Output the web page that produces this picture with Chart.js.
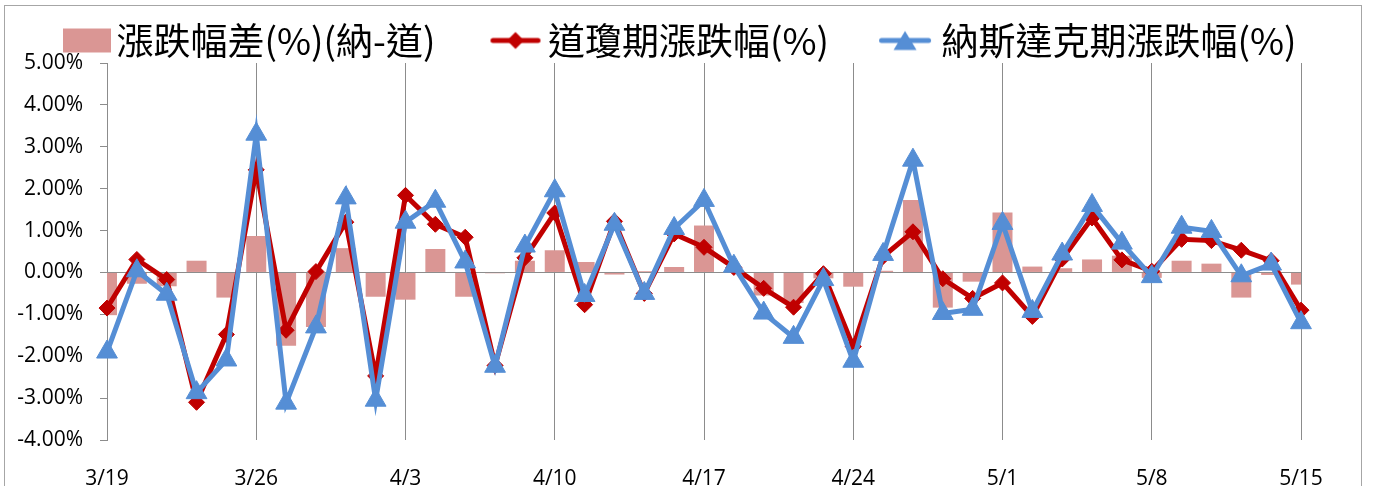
<!DOCTYPE html>
<html>
<head>
<meta charset="utf-8">
<script src="https://cdn.jsdelivr.net/npm/chart.js@4.4.0/dist/chart.umd.min.js"></script>
<style>
html,body{margin:0;padding:0;background:#fff;overflow:hidden}
#wrap{position:absolute;left:0;top:0;width:1373px;height:486px}
</style>
</head>
<body>
<div id="wrap"><canvas id="c" width="1373" height="486"></canvas></div>
<script>
// ---- data ----
const categories = [
  '3/19','3/20','3/23','3/24','3/25',
  '3/26','3/27','3/30','3/31','4/1',
  '4/3','4/6','4/7','4/8','4/9',
  '4/10','4/13','4/14','4/15','4/16',
  '4/17','4/20','4/21','4/22','4/23',
  '4/24','4/27','4/28','4/29','4/30',
  '5/1','5/4','5/5','5/6','5/7',
  '5/8','5/11','5/12','5/13','5/14',
  '5/15'
];
const diffSeries = [
  -1.02, -0.27, -0.33, 0.28, -0.60,
  0.87, -1.75, -1.30, 0.58, -0.58,
  -0.65, 0.56, -0.58, -0.02, 0.28,
  0.53, 0.25, -0.05, 0.03, 0.13,
  1.12, 0.03, -0.55, -0.73, -0.14,
  -0.34, 0.04, 1.73, -0.84, -0.22,
  1.43, 0.14, 0.10, 0.31, 0.40,
  -0.13, 0.28, 0.21, -0.60, -0.06,
  -0.29
];
const dowSeries = [
  -0.85, 0.31, -0.17, -3.10, -1.48,
  2.45, -1.38, 0.02, 1.20, -2.47,
  1.84, 1.15, 0.84, -2.22, 0.35,
  1.42, -0.77, 1.22, -0.50, 0.92,
  0.60, 0.12, -0.38, -0.83, -0.03,
  -1.77, 0.38, 0.97, -0.15, -0.62,
  -0.25, -1.05, 0.32, 1.30, 0.30,
  0.03, 0.79, 0.76, 0.53, 0.28,
  -0.90
];
const nasSeries = [
  -1.90, 0.04, -0.52, -2.87, -2.09,
  3.30, -3.12, -1.30, 1.78, -3.05,
  1.20, 1.70, 0.25, -2.24, 0.63,
  1.95, -0.55, 1.15, -0.50, 1.05,
  1.72, 0.15, -0.97, -1.55, -0.17,
  -2.12, 0.43, 2.68, -0.98, -0.88,
  1.17, -0.93, 0.44, 1.60, 0.70,
  -0.10, 1.08, 0.98, -0.08, 0.20,
  -1.20
];
const seriesNames = ['漲跌幅差(%)(納-道)', '道瓊期漲跌幅(%)', '納斯達克期漲跌幅(%)'];
const yMin = -4, yMax = 5, yStep = 1;
const labelEvery = 5;

// ---- styles ----
const BAR_COLOR = '#da9694';
const DOW_COLOR = '#c00000';
const NAS_COLOR = '#558ed5';
const GRID = '#8c8c8c';
const TICK_FONT = { family: "'Open Sans', 'DejaVu Sans', sans-serif", size: 21 };
const LEGEND_FONT = { family: "'Noto Sans CJK TC', 'Noto Sans', sans-serif", size: 37 };
const BOX_W = 94;

function legendImage(kind, a, m) {
  const H = 38, W = 2 * (a + m + BOX_W);
  const c = document.createElement('canvas');
  c.width = W; c.height = H;
  const g = c.getContext('2d');
  const x0 = W / 2 - BOX_W / 2 + a, cy = H / 2;
  if (kind === 'bar') {
    g.fillStyle = BAR_COLOR;
    g.fillRect(x0, cy - 12, m, 24);
  } else {
    const col = kind === 'dow' ? DOW_COLOR : NAS_COLOR;
    g.strokeStyle = col; g.lineWidth = 5; g.lineCap = 'round';
    g.beginPath(); g.moveTo(x0 + 2.5, cy); g.lineTo(x0 + m - 2.5, cy); g.stroke();
    const mx = x0 + m / 2;
    g.fillStyle = col; g.beginPath();
    if (kind === 'dow') {
      const r = 8.5;
      g.moveTo(mx - r, cy); g.lineTo(mx, cy - r); g.lineTo(mx + r, cy); g.lineTo(mx, cy + r);
    } else {
      g.moveTo(mx, cy - 9.5); g.lineTo(mx + 11.5, cy + 9.5); g.lineTo(mx - 11.5, cy + 9.5);
    }
    g.closePath(); g.fill();
  }
  return c;
}
const legendImgs = [legendImage('bar', 59, 48), legendImage('dow', 55, 50), legendImage('nas', 50, 52)];

const framePlugin = {
  id: 'frame',
  beforeDraw(chart) {
    const ctx = chart.ctx;
    ctx.save();
    ctx.fillStyle = '#fff';
    ctx.fillRect(0, 0, chart.width, chart.height);
    ctx.strokeStyle = '#a6a6a6';
    ctx.lineWidth = 1;
    ctx.strokeRect(4.5, 5.5, 1357, 600);
    ctx.restore();
  }
};

new Chart(document.getElementById('c'), {
  data: {
    labels: categories,
    datasets: [
      {
        type: 'bar', label: seriesNames[0], data: diffSeries,
        backgroundColor: BAR_COLOR, borderWidth: 0,
        categoryPercentage: 1, barPercentage: 0.67, order: 3
      },
      {
        type: 'line', label: seriesNames[1], data: dowSeries,
        borderColor: DOW_COLOR, backgroundColor: DOW_COLOR, borderWidth: 5,
        pointStyle: 'rectRot', pointRadius: 8, pointBorderWidth: 1,
        pointBackgroundColor: DOW_COLOR, pointBorderColor: DOW_COLOR,
        tension: 0, fill: false, order: 2
      },
      {
        type: 'line', label: seriesNames[2], data: nasSeries,
        borderColor: NAS_COLOR, backgroundColor: NAS_COLOR, borderWidth: 5,
        pointStyle: 'triangle', pointRadius: 12, pointBorderWidth: 1,
        pointBackgroundColor: NAS_COLOR, pointBorderColor: NAS_COLOR,
        tension: 0, fill: false, order: 1
      }
    ]
  },
  options: {
    responsive: false,
    animation: false,
    devicePixelRatio: 1,
    layout: { padding: { left: 4, right: 72, top: 22, bottom: 0 } },
    plugins: {
      tooltip: { enabled: false },
      legend: {
        position: 'top', align: 'start', maxHeight: 41,
        labels: {
          usePointStyle: true, pointStyleWidth: BOX_W, padding: 0,
          font: LEGEND_FONT, color: '#000',
          generateLabels: (chart) => chart.data.datasets.map((ds, i) => ({
            text: ds.label, pointStyle: legendImgs[i], datasetIndex: i,
            hidden: false, fillStyle: 'rgba(0,0,0,0)', strokeStyle: 'rgba(0,0,0,0)',
            lineWidth: 0, fontColor: '#000'
          }))
        }
      }
    },
    scales: {
      x: {
        type: 'category', offset: false,
        grid: {
          offset: false, drawTicks: false, lineWidth: 1,
          color: (ctx) => (ctx.index % labelEvery === 0 ? GRID : 'rgba(0,0,0,0)')
        },
        border: { display: false },
        ticks: {
          autoSkip: false, maxRotation: 0, minRotation: 0, padding: 26,
          color: '#000', font: TICK_FONT,
          callback: (v, i) => (i % labelEvery === 0 ? categories[i] : '')
        },
        afterFit: (s) => { s.height = 46; }
      },
      y: {
        min: yMin, max: yMax,
        grid: {
          drawTicks: true, tickLength: 7, tickColor: GRID, lineWidth: 1,
          color: (ctx) => (ctx.tick && ctx.tick.value === 0 ? GRID : 'rgba(0,0,0,0)')
        },
        border: { display: true, color: GRID, width: 1 },
        ticks: {
          stepSize: yStep, padding: 17, color: '#000', font: TICK_FONT,
          callback: (v) => v.toFixed(2) + '%'
        },
        afterFit: (s) => { s.width = 103; }
      }
    }
  },
  plugins: [framePlugin]
});
</script>
</body>
</html>
